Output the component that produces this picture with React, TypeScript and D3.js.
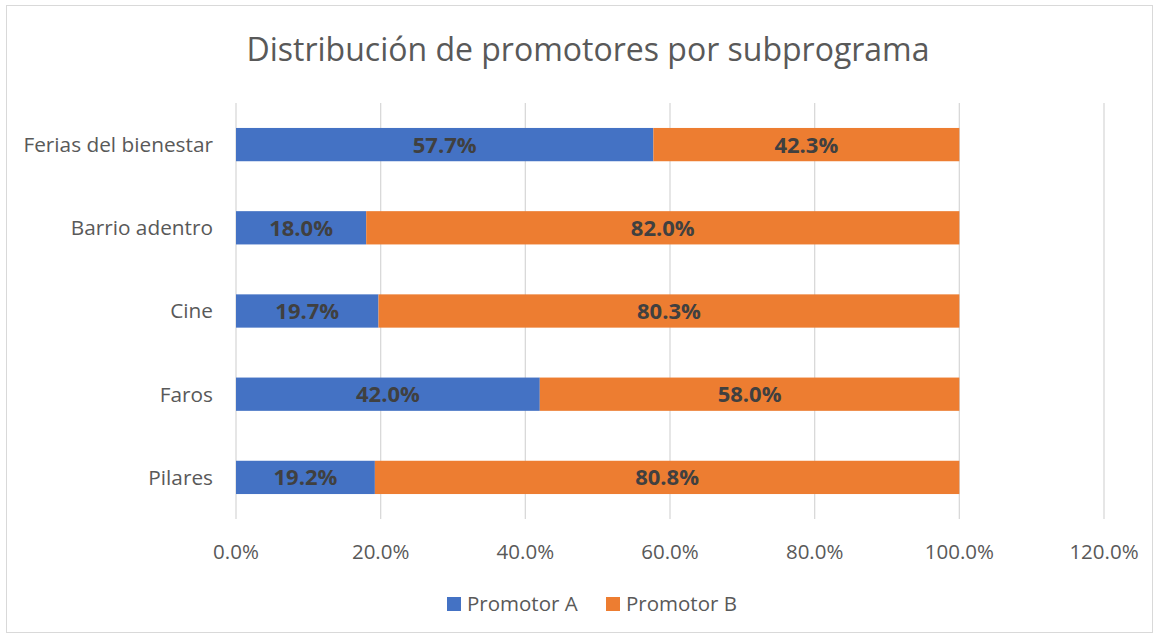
import React from "react";
import * as d3 from "d3";

const categories = ["Ferias del bienestar", "Barrio adentro", "Cine", "Faros", "Pilares"];
const promotorA = [57.7, 18.0, 19.7, 42.0, 19.2];
const promotorB = [42.3, 82.0, 80.3, 58.0, 80.8];
const seriesNames = ["Promotor A", "Promotor B"];
const seriesColors = ["#4472C4", "#ED7D31"];
const xTicks = [0, 20, 40, 60, 80, 100, 120];

const W = 1159;
const H = 638;
const FONT = "'Open Sans', 'Noto Sans', sans-serif";

export default function App() {
  const x = d3.scaleLinear().domain([0, 120]).range([236, 1104]);
  const y = d3.scaleBand<string>().domain(categories).range([103, 519]).paddingInner(0.6).paddingOuter(0.3);
  const rows = categories.map((c, i) => ({ c, a: promotorA[i], b: promotorB[i] }));
  const fmt = (v: number) => v.toFixed(1) + "%";
  return (
    <svg width={W} height={H} style={{ position: "absolute", left: 0, top: 0 }} fontFamily={FONT}>
      <rect x={0} y={0} width={W} height={H} fill="#fff" />
      <rect x={6.5} y={5.5} width={1146} height={627} fill="#fff" stroke="#D9D9D9" strokeWidth={1} />
      <text x={588} y={61} textAnchor="middle" fontSize={32} fill="#595959">
        Distribución de promotores por subprograma
      </text>
      {xTicks.map((t) => (
        <g key={t}>
          <line x1={x(t)} x2={x(t)} y1={103} y2={519} stroke="#D9D9D9" strokeWidth={1.3} />
          <text x={x(t)} y={552} dy="0.36em" textAnchor="middle" fontSize={20.5} fill="#595959">
            {fmt(t)}
          </text>
        </g>
      ))}
      {rows.map((r) => {
        const y0 = y(r.c)!;
        const bh = y.bandwidth();
        const cy = y0 + bh / 2;
        return (
          <g key={r.c}>
            <rect x={x(0)} y={y0} width={x(r.a) - x(0)} height={bh} fill={seriesColors[0]} />
            <rect x={x(r.a)} y={y0} width={x(r.a + r.b) - x(r.a)} height={bh} fill={seriesColors[1]} />
            <text x={(x(0) + x(r.a)) / 2} y={cy} dy="0.36em" textAnchor="middle" fontSize={22} fontWeight="bold" fill="#404040">
              {fmt(r.a)}
            </text>
            <text x={(x(r.a) + x(r.a + r.b)) / 2} y={cy} dy="0.36em" textAnchor="middle" fontSize={22} fontWeight="bold" fill="#404040">
              {fmt(r.b)}
            </text>
            <text x={213} y={cy} dy="0.36em" textAnchor="end" fontSize={20.8} fill="#595959">
              {r.c}
            </text>
          </g>
        );
      })}
      {seriesNames.map((s, i) => {
        const lx = [447, 606][i];
        return (
          <g key={s}>
            <rect x={lx} y={597} width={14} height={14} fill={seriesColors[i]} />
            <text x={lx + 20} y={604} dy="0.36em" fontSize={20.5} fill="#595959">
              {s}
            </text>
          </g>
        );
      })}
    </svg>
  );
}
